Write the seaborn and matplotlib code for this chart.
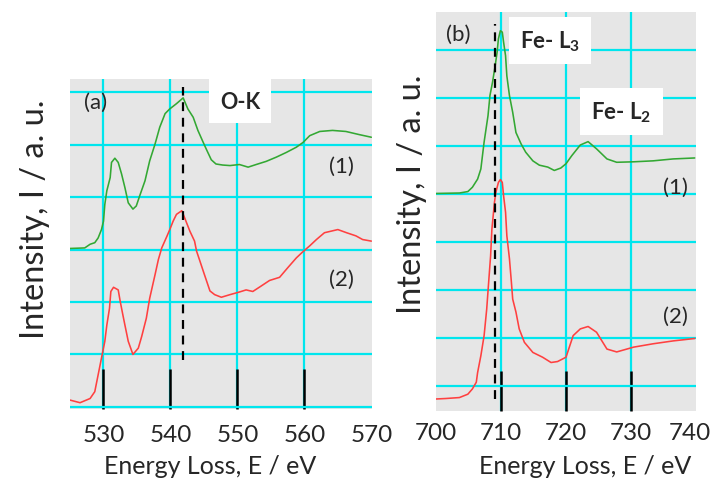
import matplotlib
matplotlib.use("Agg")
import matplotlib.pyplot as plt
import matplotlib.transforms as mtransforms
import pandas as pd
import seaborn as sns

# ---- O-K edge spectra (panel a) ----
ok_energy_1 = [525.0, 527.2, 528.0, 528.7, 529.2, 529.7, 530.0, 530.2, 530.5, 531.0,
               531.2, 531.7, 532.2, 532.7, 533.2, 533.7, 534.4, 534.9, 535.4, 536.2,
               536.9, 537.7, 538.4, 539.2, 539.9, 540.9, 541.9, 542.6, 543.4, 544.1,
               544.9, 545.4, 546.1, 546.8, 547.8, 548.9, 550.3, 551.6, 552.8, 554.3,
               555.8, 557.3, 558.8, 559.8, 560.8, 562.3, 564.2, 566.2, 568.2, 570.0]
ok_intensity_1 = [3.02, 3.03, 3.10, 3.13, 3.22, 3.38, 3.54, 3.86, 4.12, 4.37,
                  4.66, 4.74, 4.66, 4.44, 4.18, 3.89, 3.77, 3.83, 4.02, 4.31,
                  4.69, 5.01, 5.33, 5.59, 5.68, 5.78, 5.89, 5.68, 5.52, 5.27,
                  5.04, 4.90, 4.71, 4.63, 4.61, 4.60, 4.62, 4.57, 4.62, 4.68,
                  4.76, 4.85, 4.95, 5.04, 5.17, 5.25, 5.27, 5.25, 5.19, 5.14]
ok_energy_2 = [525.0, 526.5, 528.0, 528.7, 529.2, 529.7, 530.2, 530.5, 530.9, 531.1,
               531.5, 532.2, 532.5, 532.9, 533.2, 533.7, 534.4, 535.2, 535.7, 536.4,
               536.9, 537.7, 538.2, 538.7, 539.5, 539.9, 540.4, 540.9, 541.7, 542.1,
               542.9, 543.6, 543.9, 544.4, 545.0, 545.9, 546.6, 547.6, 548.9, 550.3,
               551.3, 552.3, 553.5, 554.8, 556.3, 557.5, 558.8, 559.8, 560.8, 561.8,
               563.0, 564.0, 565.0, 566.3, 567.7, 568.7, 570.0]
ok_intensity_2 = [0.13, 0.08, 0.16, 0.29, 0.61, 0.93, 1.25, 1.56, 1.88, 2.20,
                  2.28, 2.23, 2.01, 1.75, 1.56, 1.25, 1.00, 1.12, 1.34, 1.69,
                  2.07, 2.52, 2.81, 3.03, 3.26, 3.38, 3.54, 3.67, 3.74, 3.61,
                  3.35, 3.16, 2.97, 2.78, 2.55, 2.21, 2.14, 2.09, 2.14, 2.19,
                  2.23, 2.20, 2.30, 2.41, 2.47, 2.65, 2.84, 2.96, 3.07, 3.19,
                  3.32, 3.35, 3.38, 3.32, 3.26, 3.19, 3.16]
ok_marker_energy = 541.9
ok_ticks = [530, 540, 550, 560, 570]

# ---- Fe-L edge spectra (panel b) ----
fe_energy_1 = [700.0, 703.6, 704.9, 705.6, 706.4, 706.9, 707.4, 708.0, 708.3, 708.7,
               709.1, 709.4, 709.6, 709.9, 710.2, 710.4, 710.7, 710.9, 711.3, 711.8,
               712.3, 713.1, 713.8, 714.9, 715.9, 717.2, 718.2, 719.2, 720.0, 720.9,
               722.2, 723.4, 724.7, 726.3, 727.8, 730.4, 733.4, 736.5, 739.8]
fe_intensity_1 = [4.01, 4.02, 4.05, 4.14, 4.31, 4.52, 5.08, 5.63, 6.05, 6.33,
                  6.67, 6.95, 7.23, 7.40, 7.37, 7.16, 6.88, 6.46, 6.05, 5.70,
                  5.28, 5.04, 4.87, 4.69, 4.60, 4.56, 4.49, 4.54, 4.63, 4.80,
                  5.02, 5.09, 4.94, 4.73, 4.66, 4.67, 4.69, 4.73, 4.75]
fe_energy_2 = [700.0, 701.5, 703.6, 704.9, 705.6, 706.2, 706.4, 706.9, 707.4, 707.8,
               708.1, 708.4, 708.6, 709.0, 709.2, 709.6, 709.9, 710.2, 710.4, 710.7,
               710.9, 711.3, 711.6, 711.8, 712.3, 712.8, 713.6, 714.9, 716.4, 717.7,
               718.7, 720.0, 721.1, 722.2, 723.4, 724.7, 726.3, 727.8, 730.4, 733.4,
               736.5, 739.8]
fe_intensity_2 = [-0.27, -0.26, -0.24, -0.17, -0.06, 0.08, 0.28, 0.63, 1.05, 1.60,
                  2.16, 2.71, 3.27, 3.83, 4.03, 4.24, 4.30, 4.24, 3.96, 3.62,
                  3.13, 2.65, 2.16, 1.81, 1.54, 1.19, 0.91, 0.70, 0.60, 0.49,
                  0.51, 0.60, 1.05, 1.19, 1.24, 1.12, 0.77, 0.71, 0.81, 0.88,
                  0.94, 0.99]
fe_marker_energy = 709.1
fe_ticks = [700, 710, 720, 730, 740]

series_labels = ["(1)", "(2)"]
GREEN = "#33a833"
RED = "#ff4040"
GRID = "#00e6ee"
FACE = "#e6e6e6"

sns.set_style("white")
plt.rcParams["font.family"] = ["Lato", "DejaVu Sans"]
plt.rcParams["mathtext.fontset"] = "custom"
plt.rcParams["mathtext.rm"] = "Lato"
plt.rcParams["mathtext.bf"] = "Lato:bold"

ok_df = pd.concat([
    pd.DataFrame({"E": ok_energy_1, "I": ok_intensity_1, "s": series_labels[0]}),
    pd.DataFrame({"E": ok_energy_2, "I": ok_intensity_2, "s": series_labels[1]}),
])
fe_df = pd.concat([
    pd.DataFrame({"E": fe_energy_1, "I": fe_intensity_1, "s": series_labels[0]}),
    pd.DataFrame({"E": fe_energy_2, "I": fe_intensity_2, "s": series_labels[1]}),
])
palette = {series_labels[0]: GREEN, series_labels[1]: RED}

fig = plt.figure(figsize=(7.15, 4.81), dpi=100)
ax_a = fig.add_axes([70 / 715, 1 - 410 / 481, 302 / 715, 330 / 481])
ax_b = fig.add_axes([436 / 715, 1 - 412 / 481, 260 / 715, 399 / 481])


def style_axes(ax, xlim, ylim, xticks, yticks, pad, hide_first):
    ax.set_facecolor(FACE)
    for sp in ax.spines.values():
        sp.set_visible(False)
    ax.set_xlim(*xlim)
    ax.set_ylim(*ylim)
    ax.set_xticks(xticks)
    ax.set_xticklabels([str(t) for t in xticks], fontsize=17.5)
    ax.set_yticks(yticks)
    ax.set_yticklabels([])
    ax.tick_params(axis="y", length=0, left=False)
    ax.tick_params(axis="x", bottom=True, direction="in", length=29, width=1.8,
                   color="black", pad=pad)
    ax.grid(True, color=GRID, linewidth=1.6)
    ax.set_axisbelow(True)
    ticks = ax.xaxis.get_major_ticks()
    ticks[-1].tick1line.set_visible(False)
    ticks[-1].gridline.set_visible(False)
    if hide_first:
        ticks[0].tick1line.set_visible(False)
        ticks[0].gridline.set_visible(False)
    for t in ticks:
        t.tick1line.set_zorder(3)


# Panel (a): O-K edge
sns.lineplot(data=ok_df, x="E", y="I", hue="s", palette=palette, estimator=None,
             sort=False, linewidth=1.15, legend=False, ax=ax_a)
style_axes(ax_a, (525.0, 570.1), (-0.04, 6.25), ok_ticks, range(0, 7), 11, False)
ax_a.plot([ok_marker_energy, ok_marker_energy], [0.89, 6.1], color="black",
          linestyle=(0, (4, 3)), linewidth=1.6)
ax_a.text(528.8, 5.81, "(a)", fontsize=16, ha="center", va="center")
ax_a.text(550.4, 5.83, "O-K", fontsize=15.5, fontweight="bold", ha="center", va="center",
          bbox=dict(facecolor="white", edgecolor="none", pad=8))
ax_a.text(565.5, 4.59, series_labels[0], fontsize=16, ha="center", va="center")
ax_a.text(565.5, 2.44, series_labels[1], fontsize=16, ha="center", va="center")
ax_a.set_xlabel("Energy Loss, E / eV", fontsize=18)
ax_a.xaxis.set_label_coords(0.464, -0.136)
ax_a.set_ylabel("Intensity, I / a. u.", fontsize=23.5)
ax_a.yaxis.set_label_coords(-0.066, 0.579)

# Panel (b): Fe-L edges
sns.lineplot(data=fe_df, x="E", y="I", hue="s", palette=palette, estimator=None,
             sort=False, linewidth=1.15, legend=False, ax=ax_b)
style_axes(ax_b, (700, 740), (-0.52, 7.79), fe_ticks, range(0, 8), 8, True)
# keep the last tick label inside the figure
last_label = ax_b.get_xticklabels()[-1]
last_label.set_transform(last_label.get_transform() +
                         mtransforms.ScaledTranslation(-6 / 100, 0, fig.dpi_scale_trans))
ax_b.plot([fe_marker_energy, fe_marker_energy], [-0.27, 7.54], color="black",
          linestyle=(0, (4, 3)), linewidth=1.6)
ax_b.text(703.4, 7.33, "(b)", fontsize=16, ha="center", va="center")
ax_b.text(717.5, 7.2, r"Fe- L$_{\mathbf{3}}$", fontsize=16, fontweight="bold",
          ha="center", va="center",
          bbox=dict(facecolor="white", edgecolor="none", pad=8))
ax_b.text(728.5, 5.71, r"Fe- L$_{\mathbf{2}}$", fontsize=16, fontweight="bold",
          ha="center", va="center",
          bbox=dict(facecolor="white", edgecolor="none", pad=8))
ax_b.text(736.9, 4.15, series_labels[0], fontsize=16, ha="center", va="center")
ax_b.text(736.9, 1.46, series_labels[1], fontsize=16, ha="center", va="center")
ax_b.set_xlabel("Energy Loss, E / eV", fontsize=18)
ax_b.xaxis.set_label_coords(0.573, -0.108)
ax_b.set_ylabel("Intensity, I / a. u.", fontsize=23.5)
ax_b.yaxis.set_label_coords(-0.035, 0.545)

fig.savefig("out.png", dpi=100)
